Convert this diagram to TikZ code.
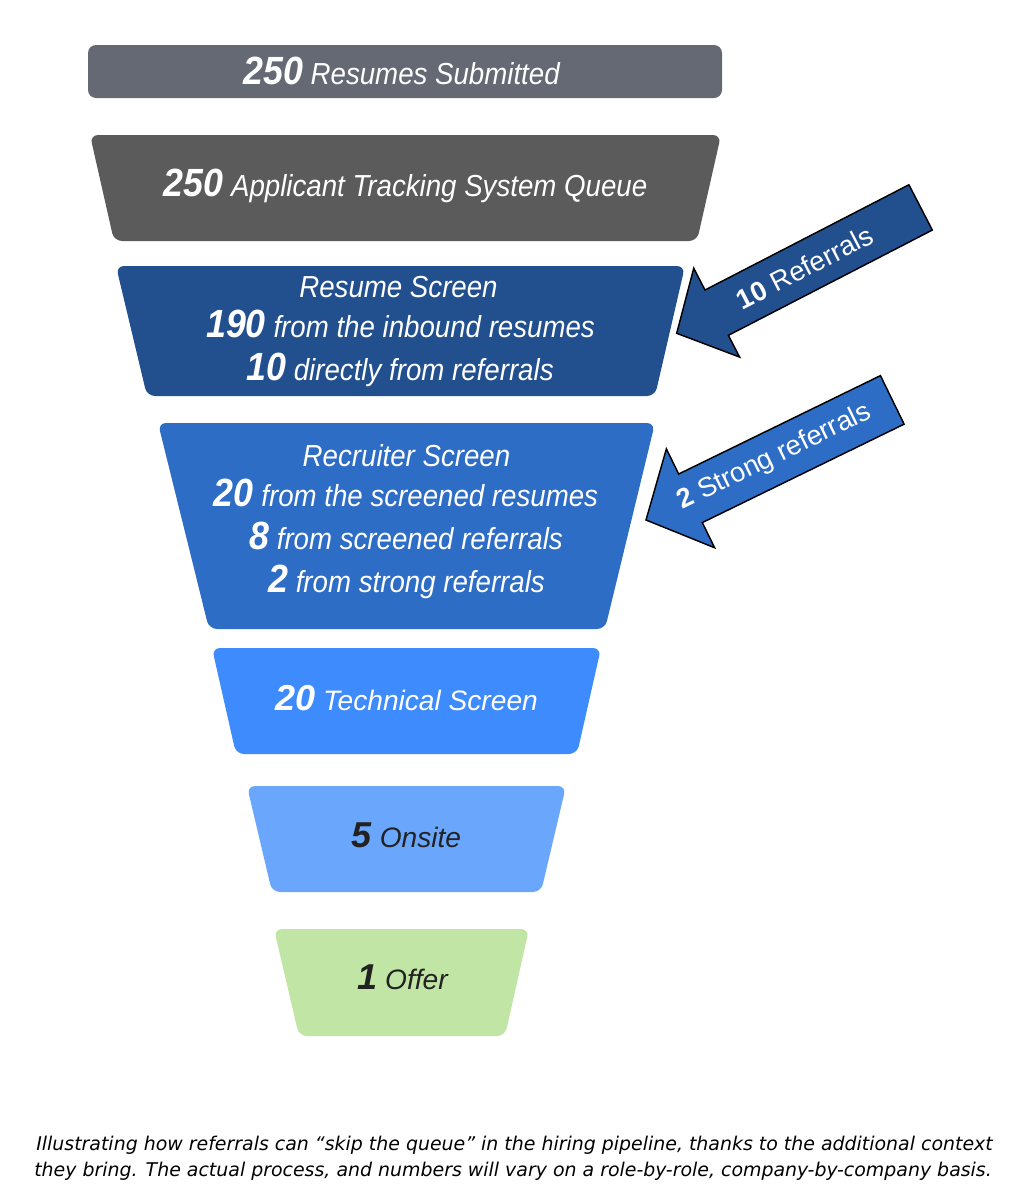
\documentclass[tikz,border=0pt]{standalone}
\usepackage{fontspec}
\setmainfont{Liberation Sans}
\newfontfamily\narrowfont[FakeStretch=0.91]{Liberation Sans}
\newfontfamily\capfont{DejaVu Sans}
\definecolor{cA}{HTML}{646973}
\definecolor{cB}{HTML}{5B5B5B}
\definecolor{cC}{HTML}{22508F}
\definecolor{cD}{HTML}{2E6DC5}
\definecolor{cE}{HTML}{3D8BFD}
\definecolor{cF}{HTML}{6AA7FC}
\definecolor{cG}{HTML}{C1E5A4}
\definecolor{darktext}{HTML}{222222}
\newcommand{\bignum}[1]{{\fontsize{29.5}{29.5}\selectfont\bfseries #1}}
\newcommand{\midnum}[1]{{\fontsize{27}{27}\selectfont\bfseries #1}}
\tikzset{
  stage/.style={rounded corners=6pt},
  ntext/.style={text=white, font=\narrowfont\itshape\fontsize{22.8}{26}\selectfont, anchor=base, inner sep=0pt},
  wtext/.style={text=white, font=\itshape\fontsize{21.1}{24}\selectfont, anchor=base, inner sep=0pt},
  dtext/.style={wtext, text=darktext},
  refarrow/.style={draw=black, line width=1.1pt, line join=miter},
  armlabel/.style={text=white, font=\fontsize{20.5}{24}\selectfont, inner sep=0pt},
  captext/.style={font=\capfont\itshape\fontsize{14.2}{17}\selectfont, text=black, anchor=base, inner sep=0pt}
}
\begin{document}
\begin{tikzpicture}[x=0.75pt,y=-0.75pt]
\useasboundingbox (0,0) rectangle (1032,1200);
% funnel stages
\fill[cA, stage] (88,45) rectangle (722,98);
\fill[cB, stage] (90,135) -- (721,135) -- (697,241) -- (114,241) -- cycle;
\fill[cC, stage] (116,266) -- (685,266) -- (655,396) -- (147,396) -- cycle;
\fill[cD, stage] (158,423) -- (655,423) -- (605,629) -- (209,629) -- cycle;
\fill[cE, stage] (212,648) -- (601,648) -- (577,754) -- (236,754) -- cycle;
\fill[cF, stage] (247,786) -- (566,786) -- (541,892) -- (272,892) -- cycle;
\fill[cG, stage] (274,929) -- (529,929) -- (505,1036) -- (299,1036) -- cycle;
% texts
\node[ntext] (t1) at (401.5,84) {\bignum{250} Resumes Submitted};
\node[ntext] (t2) at (405.5,196) {\bignum{250} Applicant Tracking System Queue};
\node[ntext] (t3a) at (398.5,297) {Resume Screen};
\node[ntext] (t3b) at (400.5,337) {\bignum{190} from the inbound resumes};
\node[ntext] (t3c) at (400,380) {\bignum{10} directly from referrals};
\node[ntext] (t4a) at (406.5,466) {Recruiter Screen};
\node[ntext] (t4b) at (406,506) {\bignum{20} from the screened resumes};
\node[ntext] (t4c) at (406,549) {\bignum{8} from screened referrals};
\node[ntext] (t4d) at (406.5,592) {\bignum{2} from strong referrals};
\node[wtext] (t5) at (406.5,710) {\midnum{20} Technical Screen};
\node[dtext] (t6) at (406.5,847) {\midnum{5} Onsite};
\node[dtext] (t7) at (402.5,989) {\midnum{1} Offer};
% referral arrows
\begin{scope}[shift={(676.7,333.3)}, rotate=27.3]
  \filldraw[refarrow, fill=cC] (0,0) -- (45,-50) -- (45,-25.5) -- (274.5,-25.5) -- (274.5,25.5) -- (45,25.5) -- (45,50) -- cycle;
  \node[armlabel, rotate=27.3] (ref1) at (144,0) {\textbf{10} Referrals};
\end{scope}
\begin{scope}[shift={(646,520)}, rotate=26]
  \filldraw[refarrow, fill=cD] (0,0) -- (49.5,-55) -- (49.5,-27) -- (274,-27) -- (274,27) -- (49.5,27) -- (49.5,55) -- cycle;
  \node[armlabel, rotate=26] (ref2) at (143,0) {\textbf{2} Strong referrals};
\end{scope}
% caption
\node[captext] (cap1) at (514.5,1150) {Illustrating how referrals can “skip the queue” in the hiring pipeline, thanks to the additional context};
\node[captext] (cap2) at (513,1176) {they bring. The actual process, and numbers will vary on a role-by-role, company-by-company basis.};
\end{tikzpicture}
\end{document}
